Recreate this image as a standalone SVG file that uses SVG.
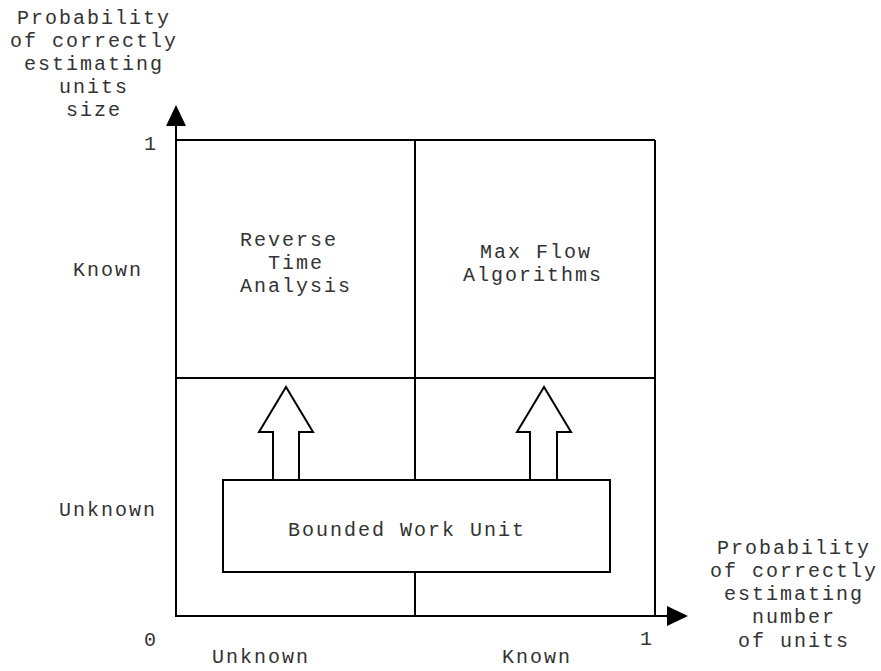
<svg xmlns="http://www.w3.org/2000/svg" width="881" height="671" viewBox="0 0 881 671">
<style>
text{font-family:"Liberation Mono","Courier New",monospace;font-size:20px;letter-spacing:2px;fill:#333;text-anchor:middle}
.ln{stroke:#000;stroke-width:2;fill:none}
.box{stroke:#000;stroke-width:2;fill:#fff}
</style>
<defs>
<marker id="ah" markerWidth="10" markerHeight="10" refX="0" refY="5" orient="auto" markerUnits="userSpaceOnUse" viewBox="0 0 10 10" overflow="visible">
<path d="M0,-5 L21,5 L0,15 Z" fill="#000"/>
</marker>
</defs>
<rect width="881" height="671" fill="#fff"/>
<g id="connectors">
<line class="ln" x1="176" y1="617" x2="176" y2="126" marker-end="url(#ah)"/>
<line class="ln" x1="176" y1="616" x2="667" y2="616" marker-end="url(#ah)"/>
<line class="ln" x1="176" y1="140" x2="655" y2="140"/>
<line class="ln" x1="176" y1="378" x2="655" y2="378"/>
<line class="ln" x1="655" y1="140" x2="655" y2="616"/>
<line class="ln" x1="415" y1="140" x2="415" y2="616"/>
<path class="box" d="M273,480 V432 H259 L286,387 L313,432 H299 V480"/>
<path class="box" d="M530,480 V432 H517 L544,387 L571,432 H557 V480"/>
</g>
<g id="quadrants">
<text x="289" y="246">Reverse</text>
<text x="296" y="269">Time</text>
<text x="296" y="292">Analysis</text>
<text x="536" y="258">Max Flow</text>
<text x="533" y="281">Algorithms</text>
</g>
<g id="bounded-work-unit">
<rect class="box" x="223" y="480" width="387" height="92"/>
<text x="407" y="536">Bounded Work Unit</text>
</g>
<g id="y-axis-label">
<text x="94" y="24">Probability</text>
<text x="94" y="47">of correctly</text>
<text x="94" y="70">estimating</text>
<text x="94" y="93">units</text>
<text x="94" y="116">size</text>
</g>
<g id="x-axis-label">
<text x="794" y="554">Probability</text>
<text x="794" y="577">of correctly</text>
<text x="794" y="600">estimating</text>
<text x="794" y="623">number</text>
<text x="794" y="647">of units</text>
</g>
<g id="ticks">
<text x="151" y="150">1</text>
<text x="151" y="646">0</text>
<text x="647" y="645">1</text>
<text x="108" y="276">Known</text>
<text x="108" y="516">Unknown</text>
<text x="261" y="663">Unknown</text>
<text x="537" y="663">Known</text>
</g>
</svg>
